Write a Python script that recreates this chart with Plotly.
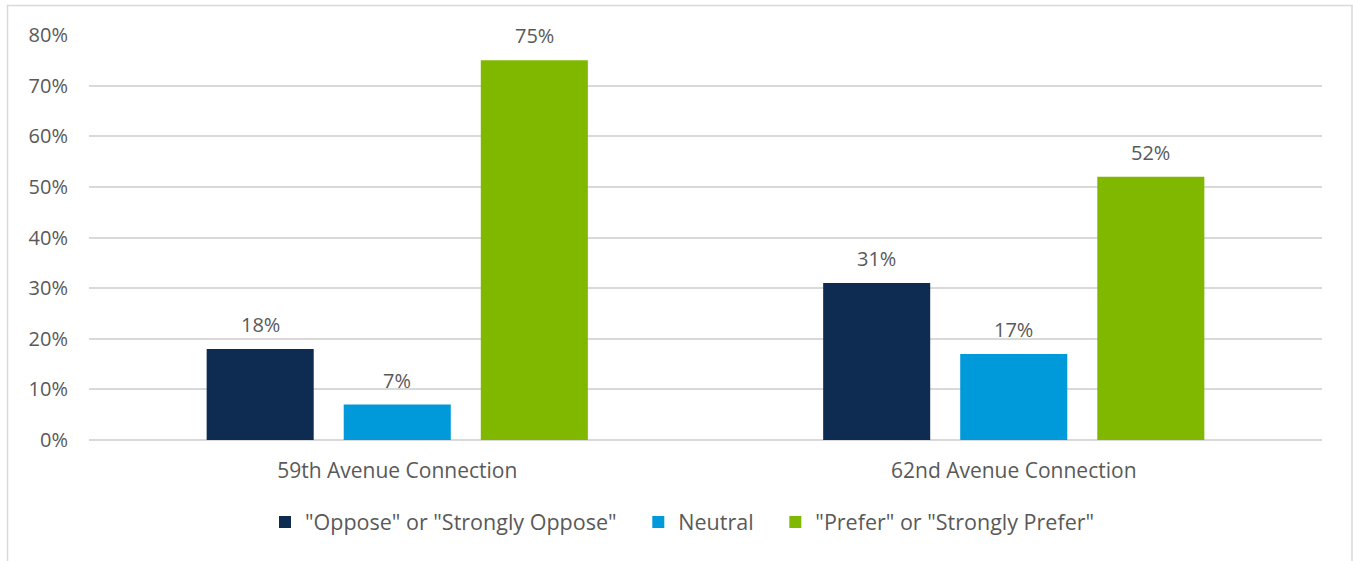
import plotly.graph_objects as go

# Survey response shares by connection option
categories = ["59th Avenue Connection", "62nd Avenue Connection"]
series_names = ['"Oppose" or "Strongly Oppose"', "Neutral", '"Prefer" or "Strongly Prefer"']
oppose = [0.18, 0.31]
neutral = [0.07, 0.17]
prefer = [0.75, 0.52]
series_values = [oppose, neutral, prefer]
series_colors = ["#0E2C52", "#0099DA", "#80B800"]
y_ticks = [0, 0.1, 0.2, 0.3, 0.4, 0.5, 0.6, 0.7, 0.8]

FONT = "Open Sans, Liberation Sans, sans-serif"
TEXT_COLOR = "#595959"
GRID_COLOR = "#D9D9D9"

W, H = 1353, 561
M_L, M_R, M_T, M_B = 89, 31, 35, 121
plot_w = W - M_L - M_R
plot_h = H - M_T - M_B

# Extra spacing after each legend entry except the last
LEGEND_PAD = "\u00a0" * 3

fig = go.Figure()
for i, (name, vals, color) in enumerate(zip(series_names, series_values, series_colors)):
    label = name + (LEGEND_PAD if i < len(series_names) - 1 else "")
    fig.add_trace(go.Bar(
        x=categories, y=vals, name=label,
        marker=dict(color=color, line=dict(width=0)),
    ))

# Value labels above each bar, shifted to the bar's slot within its group
slot_px = plot_w / len(categories) * (1 - 0.333) / len(series_names)
for j, vals in enumerate(series_values):
    for cat, v in zip(categories, vals):
        fig.add_annotation(
            x=cat, y=v, xref="x", yref="y",
            text=f"{round(v * 100)}%", showarrow=False,
            xshift=(j - 1) * slot_px, yshift=9, yanchor="bottom",
            font=dict(family=FONT, size=20, color=TEXT_COLOR),
        )

def px_to_paper_x(px):
    return (px - M_L) / plot_w

def px_to_paper_y(py):
    return (H - M_B - py) / plot_h

# Outer chart border (bottom edge runs off the canvas)
fig.add_shape(
    type="rect", xref="paper", yref="paper",
    x0=px_to_paper_x(7.5), x1=px_to_paper_x(1352), y0=px_to_paper_y(575), y1=px_to_paper_y(5.5),
    line=dict(color=GRID_COLOR, width=1.5), fillcolor="rgba(0,0,0,0)", layer="below",
)

fig.update_layout(
    width=W, height=H,
    margin=dict(l=M_L, r=M_R, t=M_T, b=M_B),
    paper_bgcolor="white", plot_bgcolor="white",
    barmode="group", bargap=0.333, bargroupgap=0.219,
    font=dict(family=FONT, size=20, color=TEXT_COLOR),
    showlegend=True,
    legend=dict(
        orientation="h", x=px_to_paper_x(265), xanchor="left",
        y=px_to_paper_y(522), yanchor="middle",
        font=dict(family=FONT, size=21.5, color=TEXT_COLOR),
        itemclick=False, itemdoubleclick=False,
        traceorder="normal",
    ),
)
fig.update_xaxes(
    showgrid=False, showline=False, zeroline=False, ticks="",
    tickfont=dict(family=FONT, size=21, color=TEXT_COLOR),
    ticklabelstandoff=16,
)
fig.update_yaxes(
    range=[0, 0.8], tickvals=y_ticks, tickformat=".0%",
    showgrid=True, gridcolor=GRID_COLOR, gridwidth=1.5,
    zeroline=True, zerolinecolor=GRID_COLOR, zerolinewidth=1.5,
    showline=False, ticks="",
    tickfont=dict(family=FONT, size=20, color=TEXT_COLOR),
    ticklabelstandoff=20,
)

fig.write_html("out.html")
